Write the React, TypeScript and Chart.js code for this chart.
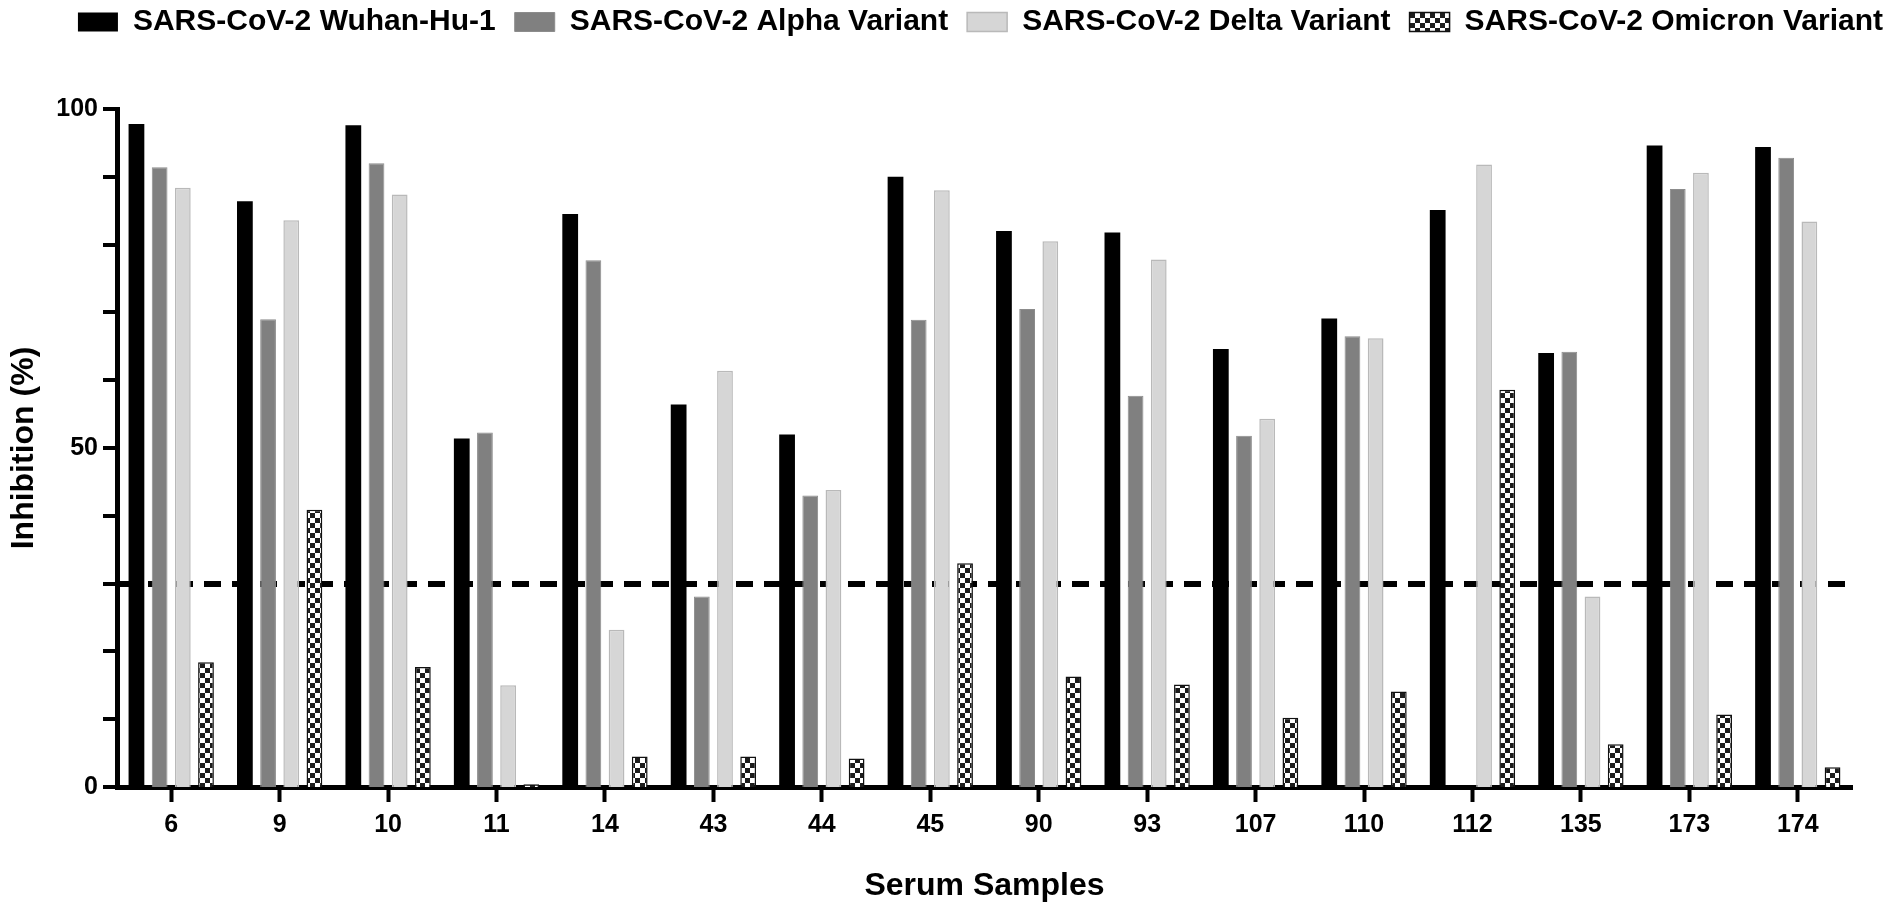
import { useEffect, useRef } from "react";
import { Chart, registerables } from "chart.js";

Chart.register(...registerables);

const samples = ["6", "9", "10", "11", "14", "43", "44", "45", "90", "93", "107", "110", "112", "135", "173", "174"];
const wuhan = [97.8, 86.4, 97.6, 51.4, 84.5, 56.4, 52, 90, 82, 81.8, 64.6, 69.1, 85.1, 64, 94.6, 94.4];
const alpha = [91.4, 69, 92, 52.3, 77.7, 28.1, 43, 68.9, 70.5, 57.7, 51.8, 66.5, null, 64.2, 88.2, 92.8];
const delta = [88.4, 83.6, 87.4, 15, 23.2, 61.4, 43.8, 88, 80.5, 77.8, 54.3, 66.2, 91.8, 28.1, 90.6, 83.4];
const omicron = [18.4, 40.9, 17.7, 0.4, 4.5, 4.5, 4.2, 33, 16.3, 15.1, 10.2, 14.1, 58.6, 6.3, 10.7, 2.9];
const seriesNames = [
  "SARS-CoV-2 Wuhan-Hu-1",
  "SARS-CoV-2 Alpha Variant",
  "SARS-CoV-2 Delta Variant",
  "SARS-CoV-2 Omicron Variant",
];
const threshold = 30;
const labelledTicks = [0, 50, 100];

// black / white checkerboard used for the omicron bars
const makeChecker = () => {
  const tile = document.createElement("canvas");
  tile.width = 10;
  tile.height = 10;
  const c = tile.getContext("2d")!;
  c.fillStyle = "#1c1c1c";
  c.fillRect(0, 0, 10, 10);
  c.fillStyle = "#ffffff";
  c.fillRect(0, 0, 5, 5);
  c.fillRect(5, 5, 5, 5);
  return c.createPattern(tile, "repeat")!;
};

// leave room between the legend and the plot
const legendGap = {
  id: "legendGap",
  beforeInit(chart: any) {
    const fit = chart.legend.fit;
    chart.legend.fit = function () {
      fit.call(this);
      this.height = 121;
    };
  },
};

const App = () => {
  const canvasRef = useRef<HTMLCanvasElement>(null);

  useEffect(() => {
    Chart.defaults.font.family = "'Liberation Sans', Arial, sans-serif";
    Chart.defaults.color = "#000";
    const checker = makeChecker();

    const myChart = new Chart(canvasRef.current!, {
      type: "bar",
      data: {
        labels: samples,
        datasets: [
          {
            label: seriesNames[0],
            data: wuhan,
            backgroundColor: "#000000",
            borderWidth: 0,
          },
          {
            label: seriesNames[1],
            data: alpha,
            backgroundColor: "#808080",
            borderColor: "#8c8c8c",
            borderWidth: 1,
          },
          {
            label: seriesNames[2],
            data: delta,
            backgroundColor: "#d6d6d6",
            borderColor: "#b9b9b9",
            borderWidth: 1.5,
          },
          {
            label: seriesNames[3],
            data: omicron,
            backgroundColor: checker,
            borderColor: "#111",
            borderWidth: 1.5,
          },
        ],
      },
      options: {
        animation: false,
        responsive: true,
        maintainAspectRatio: false,
        datasets: {
          bar: { categoryPercentage: 0.855, barPercentage: 0.68 },
        },
        plugins: {
          tooltip: { enabled: false },
          legend: {
            position: "top",
            align: "end",
            labels: {
              boxWidth: 40,
              boxHeight: 19,
              padding: 19,
              font: { size: 30, weight: "bold" },
            },
          },
        },
        scales: {
          x: {
            offset: true,
            grid: {
              offset: false,
              drawOnChartArea: false,
              drawTicks: true,
              tickLength: 15,
              tickWidth: 4,
              tickColor: "#000",
            },
            border: { color: "#000", width: 5 },
            ticks: { padding: 8, font: { size: 25, weight: "bold" } },
            title: {
              display: true,
              text: "Serum Samples",
              font: { size: 32, weight: "bold" },
              padding: { top: 0, bottom: 9 },
            },
            afterFit: (s: any) => {
              s.height = 127;
            },
          },
          y: {
            min: 0,
            max: 100,
            z: 1,
            grid: {
              drawOnChartArea: true,
              // only the 30 % cut-off is drawn across the plot
              lineWidth: (ctx: any) => (ctx.tick && ctx.tick.value === threshold ? 6 : 0),
              color: "#000",
              drawTicks: true,
              tickLength: 14,
              tickWidth: 4,
              tickColor: "#000",
            },
            border: { color: "#000", width: 5, dash: [17, 11] },
            ticks: {
              stepSize: 10,
              padding: 5,
              font: { size: 25, weight: "bold" },
              callback: (v) => (labelledTicks.includes(Number(v)) ? String(v) : ""),
            },
            title: {
              display: true,
              text: "Inhibition (%)",
              font: { size: 32, weight: "bold" },
              padding: { top: 5, bottom: 0 },
            },
            afterFit: (s: any) => {
              s.width = 117;
            },
          },
          yRight: {
            type: "linear",
            position: "right",
            grid: { display: false },
            border: { display: false },
            ticks: { display: false },
            afterFit: (s: any) => {
              s.width = 50;
            },
          },
        },
      },
      plugins: [legendGap],
    });

    return () => myChart.destroy();
  }, []);

  return (
    <div
      style={{
        position: "fixed",
        left: 0,
        top: 0,
        width: 1902,
        height: 914,
        overflow: "hidden",
        background: "#fff",
      }}
    >
      <div style={{ position: "absolute", left: 0, top: -12, width: 1902, height: 926 }}>
        <canvas ref={canvasRef}></canvas>
      </div>
    </div>
  );
};

export default App;
